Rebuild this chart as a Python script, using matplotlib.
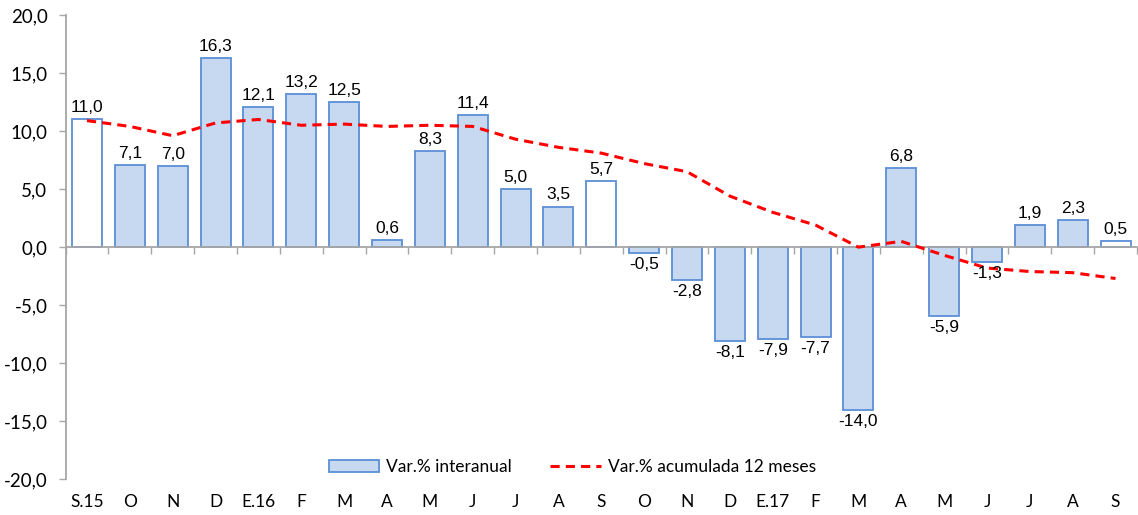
import numpy as np
import matplotlib.pyplot as plt
from matplotlib.patches import Patch
from matplotlib.lines import Line2D
from matplotlib.transforms import blended_transform_factory

meses = ['S.15', 'O', 'N', 'D', 'E.16', 'F', 'M', 'A', 'M', 'J', 'J', 'A', 'S',
         'O', 'N', 'D', 'E.17', 'F', 'M', 'A', 'M', 'J', 'J', 'A', 'S']
interanual = [11.0, 7.1, 7.0, 16.3, 12.1, 13.2, 12.5, 0.6, 8.3, 11.4, 5.0, 3.5, 5.7,
              -0.5, -2.8, -8.1, -7.9, -7.7, -14.0, 6.8, -5.9, -1.3, 1.9, 2.3, 0.5]
acumulada = [10.9, 10.4, 9.6, 10.7, 11.0, 10.5, 10.6, 10.4, 10.5, 10.4, 9.3, 8.6, 8.1,
             7.2, 6.5, 4.4, 3.0, 1.9, 0.0, 0.5, -0.7, -1.8, -2.1, -2.2, -2.7]
# los septiembres van sin relleno
blancos = [0, 12, 24]

relleno = '#C6D9F1'
borde = '#5B8FD6'
gris = '#A6A6A6'

x = np.arange(len(meses))
colores = ['white' if i in blancos else relleno for i in x]

fig = plt.figure(figsize=(11.38, 5.15), dpi=100)
ax = fig.add_axes([0.0576, 0.0693, 0.9415, 0.9016])

ax.bar(x, interanual, width=0.7, color=colores, edgecolor=borde, linewidth=1.3, zorder=2)
ax.plot(x, acumulada, color='#FF0000', linestyle=(0, (3, 2)), linewidth=2.2, zorder=3)

for xi, v in zip(x, interanual):
    txt = f'{v:.1f}'.replace('.', ',')
    if v >= 0:
        ax.annotate(txt, (xi, v), xytext=(0, 3), textcoords='offset points',
                    ha='center', va='bottom', fontsize=12.5, family='Liberation Sans')
    else:
        ax.annotate(txt, (xi, v), xytext=(0, -3), textcoords='offset points',
                    ha='center', va='top', fontsize=12.5, family='Liberation Sans')

ax.set_xlim(-0.5, len(meses) - 0.5)
ax.set_ylim(-20, 20)
ax.set_yticks(np.arange(-20, 21, 5))
ax.set_yticklabels([f'{t:.1f}'.replace('.', ',') for t in np.arange(-20, 21, 5)],
                   fontsize=13.5, family='Lato')
ax.tick_params(axis='y', length=5, color=gris, width=1, pad=8)

# eje x en el cero, marcas entre categorias
ax.spines['bottom'].set_position(('data', 0))
ax.spines['bottom'].set_color(gris)
ax.spines['bottom'].set_linewidth(1.3)
ax.spines['left'].set_color(gris)
ax.spines['left'].set_linewidth(1.3)
ax.spines['top'].set_visible(False)
ax.spines['right'].set_visible(False)
ax.set_xticks(np.arange(-0.5, len(meses), 1.0))
ax.set_xticklabels([])
ax.tick_params(axis='x', length=5, color=gris, width=1, direction='out')

trans = blended_transform_factory(ax.transData, ax.transAxes)
for xi, m in zip(x, meses):
    ax.text(xi, -0.048, m, transform=trans, ha='center', va='center',
            fontsize=12.5, family='Lato')

handles = [Patch(facecolor=relleno, edgecolor=borde, linewidth=1.3),
           Line2D([], [], color='#FF0000', linestyle=(0, (3, 2)), linewidth=2.2)]
ax.legend(handles, ['Var.% interanual', 'Var.% acumulada 12 meses'], ncol=2,
          loc='center', bbox_to_anchor=(0.473, 0.027), frameon=False,
          prop={'family': 'Lato', 'size': 12.5}, handlelength=2.9, handleheight=0.7,
          columnspacing=2.2, handletextpad=0.4)

fig.savefig('out.png', dpi=100)
